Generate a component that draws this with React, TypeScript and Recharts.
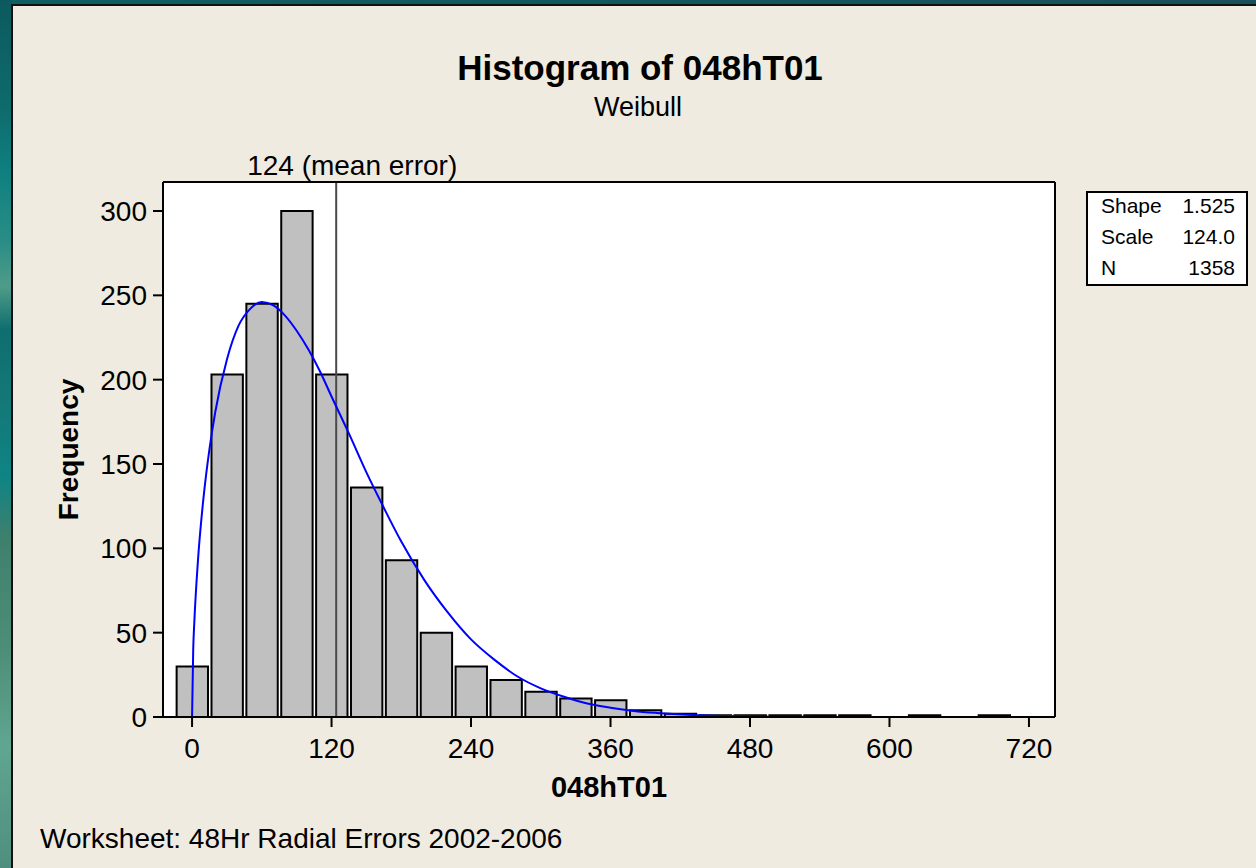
import React from 'react';
import { ComposedChart, Bar, Line, XAxis, YAxis, CartesianGrid, ReferenceLine } from 'recharts';

// Histogram bins (bin centres, width 30) and counts
const BIN_CENTERS = [0, 30, 60, 90, 120, 150, 180, 210, 240, 270, 300, 330, 360, 390, 420, 450, 480, 510, 540, 570, 600, 630, 660, 690, 720];
const BIN_COUNTS = [30, 203, 245, 300, 203, 136, 93, 50, 30, 22, 15, 11, 10, 4, 2, 1, 1, 1, 1, 1, 0, 1, 0, 1, 0];

// Fitted Weibull curve
const CURVE_X = [0, 1, 2, 5, 10, 15, 20, 30, 40, 50, 60, 70, 80, 90, 100, 110, 120, 135, 150, 165, 180, 200, 220, 240, 260, 280, 300, 320, 340, 360, 380, 400, 430, 460, 500, 535];
const CURVE_Y = [0, 40, 57, 92, 131, 159, 181, 212, 232, 242, 246, 244, 238, 229, 218, 205, 190, 168, 145, 124, 104, 81, 62, 46, 34, 24, 17, 12, 8, 5.5, 3.6, 2.4, 1.2, 0.6, 0.2, 0.1];

const X_TICKS = [0, 120, 240, 360, 480, 600, 720];
const Y_TICKS = [0, 50, 100, 150, 200, 250, 300];
const MEAN_ERROR = 124;
const STATS_LABELS = ['Shape', 'Scale', 'N'];
const STATS_VALUES = ['1.525', '124.0', '1358'];

const TITLE = 'Histogram of 048hT01';
const SUBTITLE = 'Weibull';
const X_LABEL = '048hT01';
const Y_LABEL = 'Frequency';
const FOOTNOTE = 'Worksheet: 48Hr Radial Errors 2002-2006';

const BIN_WIDTH = 30;
const X_DOMAIN: [number, number] = [-25, 742.4];
const Y_DOMAIN: [number, number] = [0, 317.2];

const W = 1256;
const H = 868;
const PLOT_LEFT = 163;
const PLOT_RIGHT = 1055;
const PLOT_TOP = 182;
const PLOT_BOTTOM = 717;
const Y_AXIS_W = 60;
const X_AXIS_H = 60;
const FRAME_AXIS = 1;
const PLOT_W = PLOT_RIGHT - PLOT_LEFT;
const BAR_PX = (PLOT_W * BIN_WIDTH) / (X_DOMAIN[1] - X_DOMAIN[0]);

const FONT = '"Liberation Sans", Arial, sans-serif';

const bins = BIN_CENTERS.map((b, i) => ({ bin: b, count: BIN_COUNTS[i] }));
const curve = CURVE_X.map((x, i) => ({ x, y: CURVE_Y[i] }));

const MeanLabel = (props: any) => {
  const vb = props.viewBox || {};
  return (
    <text x={vb.x + 16} y={vb.y - 7} textAnchor="middle" fontFamily={FONT} fontSize={28} fill="#000">
      {`${MEAN_ERROR} (mean error)`}
    </text>
  );
};

export default function App() {
  return (
    <div style={{ position: 'absolute', left: 0, top: 0, width: W, height: H, overflow: 'hidden',
      background: 'linear-gradient(90deg, #0d5f62 0%, #17505a 100%)' }}>
      <div style={{ position: 'absolute', left: 0, top: 0, width: 12, height: H,
        background: 'linear-gradient(180deg, #0c5a5d 0%, #0e6a6c 12%, #0f8080 20%, #2a8e86 28%, #4f9c88 33%, #0e6e70 38%, #147676 45%, #0f8484 55%, #3f806d 62%, #4e8e78 75%, #60a690 86%, #4f8e7e 100%)' }} />
      <div style={{ position: 'absolute', left: 11, top: 4, width: W, height: H, background: '#efebe1',
        borderLeft: '2px solid #111', borderTop: '2px solid #111' }} />
      <div style={{ position: 'absolute', left: 0, top: 0 }}>
        <ComposedChart width={W} height={H} data={bins}
          margin={{ top: PLOT_TOP - FRAME_AXIS, right: W - PLOT_RIGHT - FRAME_AXIS, bottom: H - PLOT_BOTTOM - X_AXIS_H, left: PLOT_LEFT - Y_AXIS_W }}>
          <CartesianGrid horizontal={false} vertical={false} fill="#ffffff" fillOpacity={1} />
          <XAxis xAxisId="bins" type="number" dataKey="bin" domain={X_DOMAIN} ticks={X_TICKS} allowDataOverflow
            height={X_AXIS_H} tickSize={10} tickMargin={11}
            axisLine={{ stroke: '#000', strokeWidth: 2 }} tickLine={{ stroke: '#000', strokeWidth: 2 }}
            tick={{ fill: '#000', fontSize: 28, fontFamily: FONT }} />
          <XAxis xAxisId="top" orientation="top" type="number" dataKey="bin" domain={X_DOMAIN} ticks={X_TICKS} allowDataOverflow
            height={FRAME_AXIS} tick={false} tickLine={false} axisLine={{ stroke: '#000', strokeWidth: 2 }} />
          <XAxis xAxisId="curve" type="number" dataKey="x" domain={X_DOMAIN} allowDataOverflow hide />
          <YAxis yAxisId="left" type="number" domain={Y_DOMAIN} ticks={Y_TICKS} allowDataOverflow
            width={Y_AXIS_W} tickSize={10} tickMargin={6}
            axisLine={{ stroke: '#000', strokeWidth: 2 }} tickLine={{ stroke: '#000', strokeWidth: 2 }}
            tick={{ fill: '#000', fontSize: 28, fontFamily: FONT }} />
          <YAxis yAxisId="right" orientation="right" type="number" domain={Y_DOMAIN} ticks={Y_TICKS} allowDataOverflow
            width={FRAME_AXIS} tick={false} tickLine={false} axisLine={{ stroke: '#000', strokeWidth: 2 }} />
          <ReferenceLine xAxisId="bins" yAxisId="left" x={MEAN_ERROR} stroke="#4a4a4a" strokeWidth={2}
            label={<MeanLabel />} ifOverflow="visible" />
          <Bar xAxisId="bins" yAxisId="left" dataKey="count" barSize={BAR_PX} fill="#c0c0c0"
            stroke="#000" strokeWidth={2} isAnimationActive={false} />
          <Line xAxisId="curve" yAxisId="left" data={curve} dataKey="y" type="monotone" stroke="#0000ff"
            strokeWidth={2} dot={false} activeDot={false} isAnimationActive={false} />
        </ComposedChart>
      </div>
      <svg width={W} height={H} style={{ position: 'absolute', left: 0, top: 0, pointerEvents: 'none' }}>
        <text x={640} y={80} textAnchor="middle" fontFamily={FONT} fontWeight="bold" fontSize={35} fill="#000">{TITLE}</text>
        <text x={638} y={116} textAnchor="middle" fontFamily={FONT} fontSize={27} fill="#000">{SUBTITLE}</text>
        <text x={(PLOT_LEFT + PLOT_RIGHT) / 2} y={797} textAnchor="middle" fontFamily={FONT} fontWeight="bold" fontSize={29} fill="#000">{X_LABEL}</text>
        <text transform={`translate(78, ${(PLOT_TOP + PLOT_BOTTOM) / 2}) rotate(-90)`} textAnchor="middle"
          fontFamily={FONT} fontWeight="bold" fontSize={28} fill="#000">{Y_LABEL}</text>
        <text x={40} y={848} fontFamily={FONT} fontSize={28} fill="#000">{FOOTNOTE}</text>
        <rect x={1087} y={192} width={160} height={93} fill="#fff" stroke="#000" strokeWidth={2} />
        {STATS_LABELS.map((l, i) => (
          <g key={l}>
            <text x={1101} y={213 + i * 31} fontFamily={FONT} fontSize={21} fill="#000">{l}</text>
            <text x={1235} y={213 + i * 31} textAnchor="end" fontFamily={FONT} fontSize={21} fill="#000">{STATS_VALUES[i]}</text>
          </g>
        ))}
      </svg>
    </div>
  );
}
